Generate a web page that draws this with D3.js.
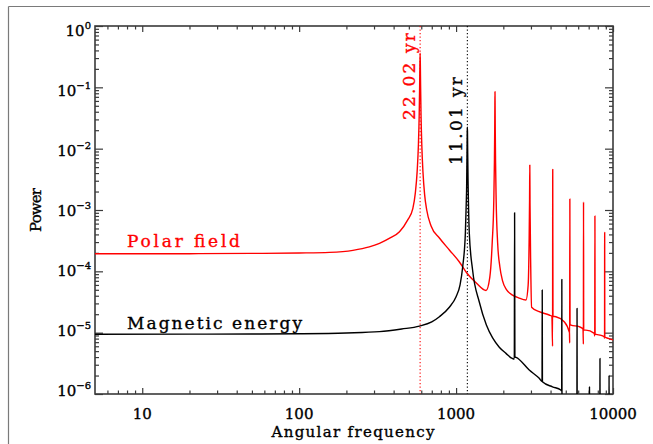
<!DOCTYPE html>
<html><head><meta charset="utf-8">
<script src="https://cdn.jsdelivr.net/npm/d3@7"></script>
<style>body{margin:0;background:#fff;} svg{display:block;}</style>
</head><body>
<svg id="chart" width="653" height="444"></svg>
<script>
// ---------- data ----------
const xTickValues = [10, 100, 1000, 10000];
const xTickLabels = ["10", "100", "1000", "10000"];
const yTickExponents = [0, -1, -2, -3, -4, -5, -6];
const periodFreqs = [590, 1180];
const periodLabels = ["22.02 yr", "11.01 yr"];
const seriesNames = ["Polar field", "Magnetic energy"];

// [angular frequency, power]
const polarField = [
  [5, 1.93e-4], [10, 1.93e-4], [20, 1.94e-4], [50, 1.96e-4], [100, 1.99e-4],
  [156, 2.04e-4], [220, 2.2e-4], [280, 2.5e-4], [325, 2.86e-4], [380, 3.5e-4],
  [436, 4.43e-4], [492, 6.9e-4], [530, 1.05e-3], [550, 1.9e-3], [565, 4.3e-3],
  [575, 1.1e-2], [582, 3.5e-2], [586, 0.11], [588, 0.23], [590, 0.36],
  [592, 0.23], [594, 0.11], [598, 3.5e-2], [605, 1.1e-2], [615, 4.2e-3],
  [630, 1.8e-3], [650, 1.0e-3], [693, 5.5e-4], [783, 3.49e-4], [906, 2.23e-4],
  [1050, 1.42e-4], [1170, 9.4e-5], [1346, 6.45e-5], [1552, 4.87e-5], [1640, 8e-5],
  [1700, 3e-4], [1740, 1.5e-3], [1755, 6e-3], [1763, 2e-2], [1767, 5e-2],
  [1770, 0.085], [1773, 5e-2], [1777, 2e-2], [1785, 6e-3], [1800, 1.5e-3],
  [1840, 2.9e-4], [1900, 1.2e-4], [1978, 7e-5], [2100, 5e-5], [2291, 4.1e-5],
  [2500, 3.7e-5], [2786, 3.4e-5], [2880, 6e-5], [2920, 3e-4], [2940, 1.5e-3],
  [2950, 5.4e-3], [2960, 1.2e-3], [2990, 1.2e-4], [3030, 2.6e-5], [3388, 2.2e-5],
  [3920, 1.94e-5], [4080, 1.85e-5], [4120, 6e-6], [4130, 4.6e-3], [4145, 1.85e-5],
  [4325, 1.82e-5], [4887, 1.51e-5], [5280, 1e-5], [5295, 6.8e-6], [5310, 1.51e-3],
  [5325, 1.35e-5], [5400, 1.33e-5], [6085, 1.25e-5], [6440, 1.15e-5], [6475, 6.5e-6],
  [6490, 1.35e-3], [6505, 1.1e-5], [6714, 1.1e-5], [7600, 9.75e-6], [7650, 8.8e-6],
  [7670, 8e-4], [7690, 9.5e-6], [8150, 9.2e-6], [8820, 8.5e-6], [8835, 8.1e-6],
  [8850, 4.3e-4], [8865, 8.5e-6], [9440, 8e-6], [10000, 7.6e-6]
];

const magneticEnergy = [
  [5, 9.4e-6], [20, 9.45e-6], [50, 9.5e-6], [100, 9.6e-6], [200, 9.9e-6],
  [325, 1.04e-5], [450, 1.15e-5], [584, 1.28e-5], [700, 1.5e-5], [783, 1.82e-5],
  [906, 2.6e-5], [1000, 3.86e-5], [1060, 6e-5], [1102, 1.19e-4], [1146, 4.2e-4],
  [1160, 1.2e-3], [1168, 2.5e-3], [1174, 8.6e-3], [1178, 1.9e-2], [1180, 2.23e-2],
  [1182, 1.9e-2], [1186, 8.6e-3], [1192, 3e-3], [1200, 1.2e-3], [1214, 4.2e-4],
  [1274, 1.05e-4], [1406, 3.16e-5], [1560, 1.33e-5], [1710, 8.2e-6], [1885, 5.8e-6],
  [2080, 4.6e-6], [2280, 3.8e-6], [2350, 3.7e-6], [2360, 9e-4], [2370, 4.0e-6],
  [2410, 3.95e-6], [2925, 2.46e-6], [3388, 1.8e-6], [3530, 1.6e-6], [3540, 4.96e-5],
  [3550, 1.58e-6], [4115, 1.31e-6], [4650, 1.16e-6], [4710, 1.12e-6], [4720, 7.4e-5],
  [4730, 9e-7], [5000, 8e-7], [5890, 7e-7], [5900, 2.49e-5], [5910, 7e-7],
  [7070, 6e-7], [7080, 1.3e-6], [7090, 6e-7], [8250, 5.5e-7], [8260, 3.8e-6],
  [8270, 5.5e-7], [9430, 5e-7], [9440, 2.0e-6], [9450, 5e-7], [10000, 5e-7]
];

// ---------- layout ----------
const L = 95, R = 613, T = 26, B = 394;
const x = d3.scaleLog().domain([5, 10000]).range([L, R]);
const y = d3.scaleLog().domain([1e-6, 1]).range([B, T]);
const FONT = "'DejaVu Serif', serif";
const axisColor = "#3a3a3a";
const textStroke = 0.35;

const svg = d3.select("#chart");
svg.append("rect").attr("width", 653).attr("height", 444).attr("fill", "#fff");

// outer frame (top + left)
svg.append("line").attr("x1", 8.5).attr("y1", 6.5).attr("x2", 650).attr("y2", 6.5)
  .attr("stroke", "#7a7a7a").attr("stroke-width", 1.2);
svg.append("line").attr("x1", 8.5).attr("y1", 6.5).attr("x2", 8.5).attr("y2", 444)
  .attr("stroke", "#7a7a7a").attr("stroke-width", 1.2);

// clip
svg.append("clipPath").attr("id", "plotclip").append("rect")
  .attr("x", L).attr("y", T).attr("width", R - L).attr("height", B - T);

// axes ticks
const xAll = x.ticks().filter(v => v > 5);
const xMinor = xAll.filter(v => !xTickValues.includes(v));
const yAll = y.ticks();
const yMajor = yTickExponents.map(e => Math.pow(10, e));
const yMinor = yAll.filter(v => !yMajor.some(m => Math.abs(m - v) / v < 1e-6));

function styleAxis(g) {
  g.select(".domain").remove();
  g.selectAll("line").attr("stroke", axisColor).attr("stroke-width", 1.2);
  g.selectAll("text").remove();
}
const ax = svg.append("g");
ax.append("g").attr("transform", `translate(0,${B})`).call(d3.axisBottom(x).tickValues(xTickValues).tickSize(-6).tickFormat("")).call(styleAxis);
ax.append("g").attr("transform", `translate(0,${B})`).call(d3.axisBottom(x).tickValues(xMinor).tickSize(-3.5).tickFormat("")).call(styleAxis);
ax.append("g").attr("transform", `translate(0,${T})`).call(d3.axisTop(x).tickValues(xTickValues).tickSize(-6).tickFormat("")).call(styleAxis);
ax.append("g").attr("transform", `translate(0,${T})`).call(d3.axisTop(x).tickValues(xMinor).tickSize(-3.5).tickFormat("")).call(styleAxis);
ax.append("g").attr("transform", `translate(${L},0)`).call(d3.axisLeft(y).tickValues(yMajor).tickSize(-8).tickFormat("")).call(styleAxis);
ax.append("g").attr("transform", `translate(${L},0)`).call(d3.axisLeft(y).tickValues(yMinor).tickSize(-4).tickFormat("")).call(styleAxis);
ax.append("g").attr("transform", `translate(${R},0)`).call(d3.axisRight(y).tickValues(yMajor).tickSize(-8).tickFormat("")).call(styleAxis);
ax.append("g").attr("transform", `translate(${R},0)`).call(d3.axisRight(y).tickValues(yMinor).tickSize(-4).tickFormat("")).call(styleAxis);
ax.append("rect").attr("x", L).attr("y", T).attr("width", R - L).attr("height", B - T)
  .attr("fill", "none").attr("stroke", axisColor).attr("stroke-width", 1.6);

// x tick labels
svg.append("g").selectAll("text").data(xTickValues).join("text")
  .attr("x", d => x(d)).attr("y", B + 25).attr("text-anchor", "middle")
  .attr("font-family", FONT).attr("font-size", 15).attr("fill", "#000")
  .attr("stroke", "#000").attr("stroke-width", textStroke)
  .text((d, i) => xTickLabels[i]);

// y tick labels
yTickExponents.forEach(e => {
  const t = svg.append("text").attr("x", 91).attr("y", y(Math.pow(10, e)) + 10 + 1.4 * e)
    .attr("text-anchor", "end").attr("font-family", FONT).attr("font-size", 15).attr("fill", "#000")
    .attr("stroke", "#000").attr("stroke-width", textStroke);
  t.append("tspan").text("10");
  t.append("tspan").attr("dy", -7).attr("font-size", 10).text(e === 0 ? "0" : "\u2212" + (-e));
});

// axis titles
svg.append("text").attr("x", 353).attr("y", 437).attr("text-anchor", "middle")
  .attr("font-family", FONT).attr("font-size", 15).attr("textLength", 163).attr("lengthAdjust", "spacing")
  .attr("stroke", "#000").attr("stroke-width", textStroke)
  .text("Angular frequency");
svg.append("text").attr("transform", "translate(41,210) rotate(-90)").attr("text-anchor", "middle")
  .attr("font-family", FONT).attr("font-size", 15).attr("textLength", 44).attr("lengthAdjust", "spacing")
  .attr("stroke", "#000").attr("stroke-width", textStroke)
  .text("Power");

// dotted period lines
const periodColors = ["#ff0000", "#000000"];
svg.append("g").selectAll("line").data(periodFreqs).join("line")
  .attr("x1", d => x(d)).attr("x2", d => x(d)).attr("y1", T).attr("y2", B)
  .attr("stroke", (d, i) => periodColors[i]).attr("stroke-width", 1.1).attr("stroke-dasharray", "1.3,2.2");

// curves
const line = d3.line().x(d => x(d[0])).y(d => y(d[1])).curve(d3.curveMonotoneX);
const curves = svg.append("g").attr("clip-path", "url(#plotclip)");
curves.append("path").datum(polarField).attr("d", line).attr("fill", "none")
  .attr("stroke", "#ff0000").attr("stroke-width", 1.4).attr("stroke-linejoin", "round");
curves.append("path").datum(magneticEnergy).attr("d", line).attr("fill", "none")
  .attr("stroke", "#000").attr("stroke-width", 1.4).attr("stroke-linejoin", "round");

// period labels (rotated)
const periodLabelBottoms = [120, 165];
const periodLabelLengths = [87, 88];
periodFreqs.forEach((f, i) => {
  svg.append("text").attr("transform", `translate(${x(f) - 5},${periodLabelBottoms[i]}) rotate(-90)`)
    .attr("font-family", FONT).attr("font-size", 17).attr("fill", periodColors[i])
    .attr("stroke", periodColors[i]).attr("stroke-width", textStroke)
    .attr("textLength", periodLabelLengths[i]).attr("lengthAdjust", "spacing")
    .text(periodLabels[i]);
});

// series labels
const seriesColors = ["#ff0000", "#000000"];
const seriesLabelY = [246.7, 329.3];
const seriesLabelLen = [113, 175];
seriesNames.forEach((n, i) => {
  svg.append("text").attr("x", 127).attr("y", seriesLabelY[i])
    .attr("font-family", FONT).attr("font-size", 17).attr("fill", seriesColors[i])
    .attr("stroke", seriesColors[i]).attr("stroke-width", textStroke)
    .attr("textLength", seriesLabelLen[i]).attr("lengthAdjust", "spacing")
    .text(n);
});
</script>
</body></html>
